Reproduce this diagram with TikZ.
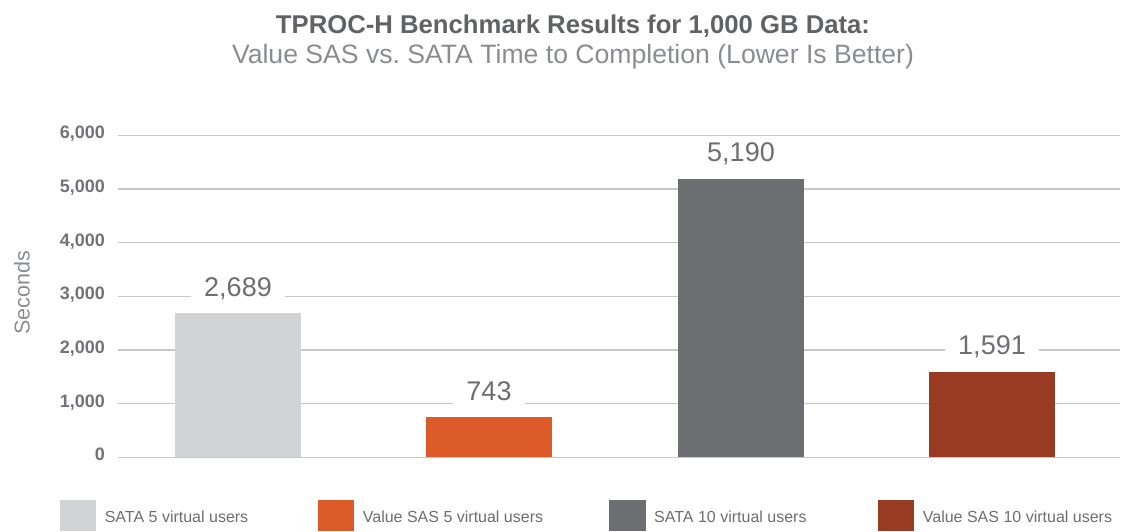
\documentclass[tikz,border=0pt]{standalone}
\usepackage{fontspec}
\setmainfont{Liberation Sans}
\definecolor{barlight}{HTML}{D1D3D4}
\definecolor{barorange}{HTML}{DD5A29}
\definecolor{bardark}{HTML}{6D6E71}
\definecolor{barrust}{HTML}{993A22}
\definecolor{gridgray}{HTML}{C8C8C8}
\definecolor{titlegray}{HTML}{616264}
\definecolor{subgray}{HTML}{8A8C8F}
\definecolor{labelgray}{HTML}{6D6E71}
\definecolor{tickgray}{HTML}{727376}
\tikzset{
  fs/.style={font=\fontsize{#1}{#1}\selectfont},
  gridline/.style={draw=gridgray, line width=1.5pt},
  ticklabel/.style={anchor=east, inner sep=0pt, text height=0.716em, text depth=0pt,
    text=tickgray, font=\bfseries\fontsize{18}{18}\selectfont},
  bar/.style={draw=none, anchor=south, minimum width=126pt, inner sep=0pt, outer sep=0pt},
  vallabel/.style={anchor=base, fill=white, inner xsep=13pt, inner ysep=3pt,
    text=labelgray, font=\fontsize{27}{27}\selectfont},
  legsq/.style={draw=none, anchor=north west, minimum width=36.5pt, minimum height=31pt,
    inner sep=0pt, outer sep=0pt},
  legtext/.style={anchor=base west, inner sep=0pt, text=labelgray,
    font=\fontsize{16}{16}\selectfont},
}
\begin{document}
\begin{tikzpicture}[x=1pt, y=-1pt]
\useasboundingbox (0,0) rectangle (1123,531);

% headings
\node[anchor=base, inner sep=0pt, text=titlegray, font=\bfseries\fontsize{25.7}{26}\selectfont]
  (title) at (573,33.3) {TPROC-H Benchmark Results for 1,000 GB Data:};
\node[anchor=base, inner sep=0pt, text=subgray, font=\fontsize{26.6}{27}\selectfont]
  (subtitle) at (573,63.3) {Value SAS vs.\ SATA Time to Completion (Lower Is Better)};

% axis title
\node[rotate=90, inner sep=0pt, text=subgray, fs=21.5] (ylabel) at (22,293) {Seconds};

% value axis: tick labels and grid lines
\foreach \k/\lab in {0/0, 1/{1,000}, 2/{2,000}, 3/{3,000}, 4/{4,000}, 5/{5,000}, 6/{6,000}} {
  \node[ticklabel] (t\k) at (105,{457.3-\k*53.667}) {\lab};
  \draw[gridline] ([xshift=13pt]t\k.east) -- ++(1002,0);
}

% bars with their value labels
\foreach \n/\x/\v/\lab/\c in {b1/238/2689/{2,689}/barlight, b2/489/743/743/barorange,
                               b3/741/5190/{5,190}/bardark, b4/992/1591/{1,591}/barrust} {
  \node[bar, fill=\c, minimum height={\v*0.053667pt}] (\n) at (\x,457.3) {};
  \node[vallabel] (\n-val) at ([yshift=17pt]\n.north) {\lab};
}

% legend
\foreach \n/\x/\c/\lab in {l1/59.6/barlight/SATA 5 virtual users,
                           l2/317.7/barorange/Value SAS 5 virtual users,
                           l3/609/bardark/SATA 10 virtual users,
                           l4/877.7/barrust/Value SAS 10 virtual users} {
  \node[legsq, fill=\c] (\n) at (\x,500) {};
  \node[legtext] (\n-text) at (\x+45,522) {\lab};
}
\end{tikzpicture}
\end{document}
